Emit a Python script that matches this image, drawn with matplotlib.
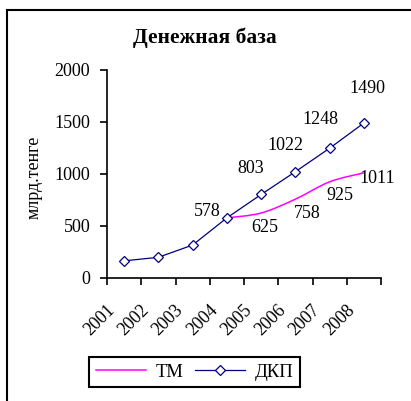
import matplotlib.pyplot as plt
from matplotlib.lines import Line2D
from matplotlib.path import Path
from matplotlib.patches import PathPatch
import matplotlib.transforms as mtransforms

years = ["2001", "2002", "2003", "2004", "2005", "2006", "2007", "2008"]
dkp_values = [165, 199, 317, 578, 803, 1022, 1248, 1490]
tm_years = ["2004", "2005", "2006", "2007", "2008"]
tm_values = [578, 625, 758, 925, 1011]

plt.rcParams["font.family"] = ["Liberation Serif", "DejaVu Serif"]
plt.rcParams["font.size"] = 13

W, H = 411, 401
fig = plt.figure(figsize=(W / 100, H / 100), dpi=100)
ax = fig.add_axes([107 / W, 1 - 278 / H, 274 / W, 208 / H])

# category centres
xpos = [i + 0.5 for i in range(len(years))]
tm_x = [years.index(y) + 0.5 for y in tm_years]

# ДКП: straight segments with diamond markers
ax.plot(xpos, dkp_values, color="#000080", lw=0.9, marker="D", ms=5.5,
        mfc="white", mec="#000080", mew=0.9, zorder=3, label="ДКП")

# ТМ: smoothed line (Bezier through the points, Excel-like)
pts = list(zip(tm_x, tm_values))
verts = [pts[0]]
codes = [Path.MOVETO]
for i in range(len(pts) - 1):
    p0 = pts[i - 1] if i > 0 else pts[i]
    p1 = pts[i]
    p2 = pts[i + 1]
    p3 = pts[i + 2] if i + 2 < len(pts) else pts[i + 1]
    c1 = (p1[0] + (p2[0] - p0[0]) / 6, p1[1] + (p2[1] - p0[1]) / 6)
    c2 = (p2[0] - (p3[0] - p1[0]) / 6, p2[1] - (p3[1] - p1[1]) / 6)
    verts += [c1, c2, p2]
    codes += [Path.CURVE4] * 3
ax.add_patch(PathPatch(Path(verts, codes), fill=False, edgecolor="#FF00FF",
                       lw=1.1, zorder=2))

# data labels (offsets in pixels)
dkp_off = [None, None, None, (-20, 6), (-10, 26), (-10, 26), (-9, 29), (4, 35)]
for x, v, off in zip(xpos, dkp_values, dkp_off):
    if off is None:
        continue
    ax.annotate(str(v), (x, v), xytext=(off[0] * 0.72, off[1] * 0.72),
                textcoords="offset points", ha="center", va="center")
tm_off = [None, (4, -14), (12, -14), (10, -14), None]
for x, v, off in zip(tm_x, tm_values, tm_off):
    if off is None:
        continue
    ax.annotate(str(v), (x, v), xytext=(off[0] * 0.72, off[1] * 0.72),
                textcoords="offset points", ha="center", va="center")
ax.annotate(str(tm_values[-1]), (tm_x[-1], tm_values[-1]), xytext=(-3, -4),
            textcoords="offset points", ha="left", va="center")

ax.set_xlim(0, len(years))
ax.set_ylim(0, 2000)
ax.set_yticks([0, 500, 1000, 1500, 2000])
ax.set_xticks(range(len(years) + 1))
ax.set_xticklabels([])
ax.set_xticks(xpos, minor=True)
ax.set_xticklabels(years, minor=True, rotation=45, ha="right", va="top")
ax.tick_params(axis="x", which="minor", length=0, pad=17)
ax.tick_params(axis="both", which="major", direction="out", length=5,
               width=1.2, color="black")
ax.tick_params(axis="y", pad=7)
shift = mtransforms.ScaledTranslation(-6 / 100, 0, fig.dpi_scale_trans)
for lab in ax.get_xticklabels(minor=True):
    lab.set_transform(lab.get_transform() + shift)

for side in ("top", "right"):
    ax.spines[side].set_visible(False)
for side in ("left", "bottom"):
    ax.spines[side].set_linewidth(1.2)

fig.text(205 / W, 1 - 38 / H, "Денежная база", ha="center", va="center",
         fontsize=15.5, fontweight="bold")
fig.text(34 / W, 1 - 177 / H, "млрд.тенге", rotation=90, ha="center",
         va="center", fontsize=13)

handles = [Line2D([], [], color="#FF00FF", lw=1.1),
           Line2D([], [], color="#000080", lw=0.9, marker="D", ms=5.5,
                  mfc="white", mec="#000080", mew=0.9)]
leg = fig.legend(handles, ["ТМ", "ДКП"], loc="center",
                 bbox_to_anchor=(194.5 / W, 1 - 372 / H), ncol=2,
                 fancybox=False, framealpha=1, edgecolor="black",
                 handlelength=2.7, handletextpad=0.5, columnspacing=0.6,
                 borderpad=0.35, fontsize=13.5)
leg.get_frame().set_linewidth(1.5)

# outer chart-area border (left and top edges visible)
fig.add_artist(Line2D([7 / W, 7 / W], [0, 1 - 10 / H], color="black", lw=1.5,
                      transform=fig.transFigure))
fig.add_artist(Line2D([7 / W, 1], [1 - 10 / H, 1 - 10 / H], color="black",
                      lw=1.5, transform=fig.transFigure))

fig.savefig("out.png", dpi=100)
